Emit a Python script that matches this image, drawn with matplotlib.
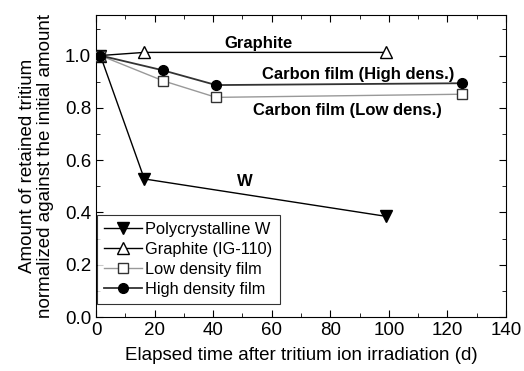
import matplotlib
matplotlib.use("Agg")
import matplotlib.pyplot as plt
from matplotlib.ticker import MultipleLocator

plt.rcParams['font.family'] = ['Liberation Sans', 'DejaVu Sans']

# data
w_t = [1.5, 16.5, 99]
w_y = [1.0, 0.528, 0.385]
gr_t = [1.5, 16.5, 99]
gr_y = [1.0, 1.012, 1.012]
low_t = [1.5, 23, 41, 125]
low_y = [1.0, 0.903, 0.840, 0.852]
high_t = [1.5, 23, 41, 125]
high_y = [1.0, 0.943, 0.887, 0.894]

fig = plt.figure(figsize=(5.24, 3.71), dpi=100)
ax = fig.add_axes([96/524, 1-317/371, 410/524, 302/371])

ax.plot(w_t, w_y, '-', color='black', lw=1.0, marker='v', ms=8.5, mfc='black', mec='black',
        label='Polycrystalline W', zorder=3)
ax.plot(gr_t, gr_y, '-', color='black', lw=1.0, marker='^', ms=8.5, mfc='white', mec='black',
        label='Graphite (IG-110)', zorder=3)
ax.plot(low_t, low_y, '-', color='#999999', lw=1.0, marker='s', ms=6.5, mfc='white', mec='#333333',
        label='Low density film', zorder=3)
ax.plot(high_t, high_y, '-', color='#333333', lw=1.3, marker='o', ms=7, mfc='black', mec='black',
        label='High density film', zorder=3)

fs_ann = 12
ax.text(55.5, 1.045, 'Graphite', fontweight='bold', fontsize=fs_ann, ha='center', va='center')
ax.text(89.5, 0.929, 'Carbon film (High dens.)', fontweight='bold', fontsize=fs_ann, ha='center', va='center')
ax.text(86, 0.79, 'Carbon film (Low dens.)', fontweight='bold', fontsize=fs_ann, ha='center', va='center')
ax.text(51, 0.517, 'W', fontweight='bold', fontsize=fs_ann, ha='center', va='center')

ax.set_xlim(0, 140)
ax.set_ylim(0, 1.155)
ax.xaxis.set_major_locator(MultipleLocator(20))
ax.xaxis.set_minor_locator(MultipleLocator(10))
ax.yaxis.set_major_locator(MultipleLocator(0.2))
ax.yaxis.set_minor_locator(MultipleLocator(0.1))
ax.yaxis.set_major_formatter(plt.FormatStrFormatter('%.1f'))
ax.tick_params(which='both', direction='in', top=True, right=True, labelsize=13.5)
ax.tick_params(which='major', length=5)
ax.tick_params(which='minor', length=3)

ax.set_xlabel('Elapsed time after tritium ion irradiation (d)', fontsize=13.5, labelpad=6)
ax.set_ylabel('Amount of retained tritium\nnormalized against the initial amount', fontsize=13.5,
              linespacing=1.05, labelpad=8)

leg = ax.legend(loc='lower left', bbox_to_anchor=(0.0, 0.04), fontsize=11.8, frameon=True,
                fancybox=False, edgecolor='black', handlelength=2.3, borderpad=0.45,
                labelspacing=0.3, handletextpad=0.2, borderaxespad=0.05)
leg.get_frame().set_linewidth(0.8)

fig.savefig('out.png', dpi=100)
